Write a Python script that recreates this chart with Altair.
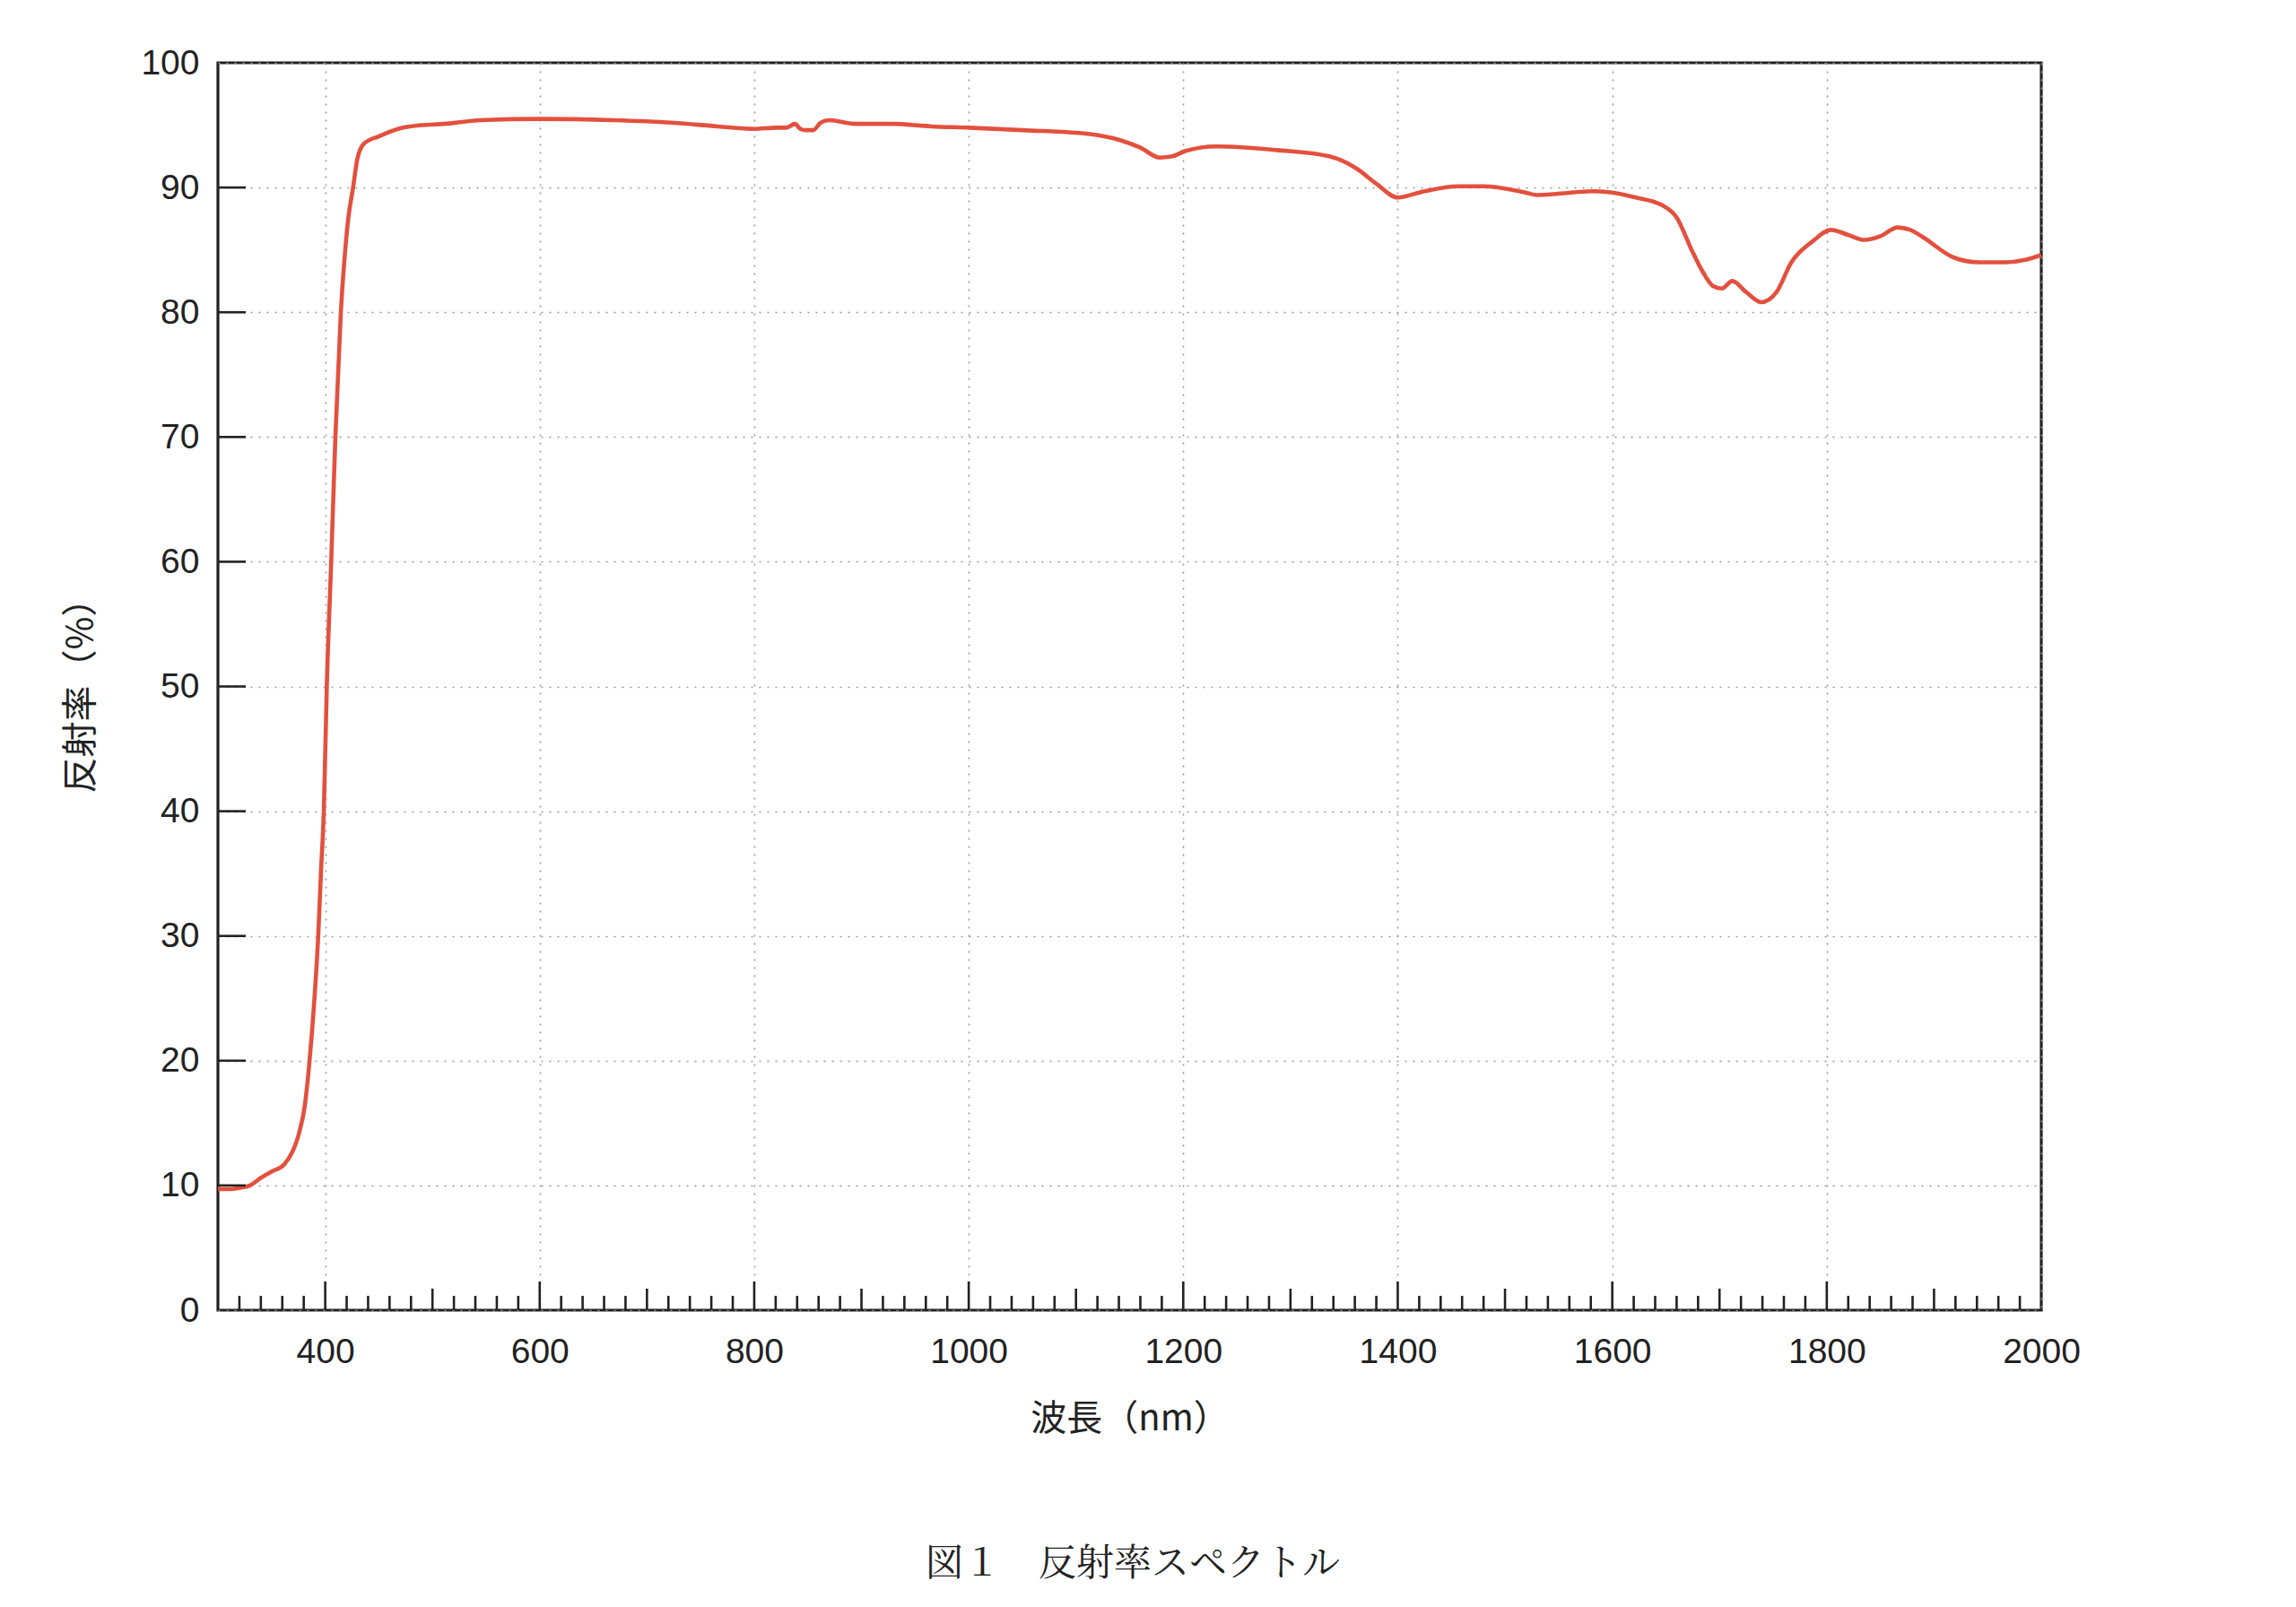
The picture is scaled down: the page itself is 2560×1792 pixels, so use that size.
import altair as alt
import pandas as pd

# ---- data ----
wavelength = [300, 310, 320, 330, 340, 350, 362, 370, 375, 381, 385, 390, 393.5, 396, 398.7,
              401.5, 405.6, 409.5, 414.6, 418.7, 421.5, 426, 430, 436, 450, 468, 490, 511,
              545, 600, 668, 723, 766, 800, 820, 830, 838, 843, 848, 855, 862, 870, 894,
              930, 965, 1000, 1050, 1111, 1141, 1160, 1178, 1190, 1201, 1231, 1287, 1336,
              1362, 1380, 1400, 1420, 1456, 1480, 1519, 1530, 1550, 1581, 1600, 1622, 1646,
              1660, 1674, 1684, 1694, 1702, 1712, 1725, 1739, 1753, 1767, 1787, 1804, 1820,
              1835, 1850, 1866, 1878, 1890, 1918, 1942, 1966, 1985, 2000]
reflectance = [9.7, 9.7, 9.8, 10.0, 10.6, 11.1, 11.7, 12.8, 14.0, 16.4, 19.6, 25.0, 30.0, 35.0, 40.0,
               50.0, 60.0, 70.0, 80.0, 85.0, 87.5, 90.0, 92.3, 93.5, 94.1, 94.7, 95.0, 95.1,
               95.4, 95.5, 95.4, 95.2, 94.9, 94.7, 94.8, 94.8, 95.1, 94.7, 94.6, 94.6, 95.2, 95.4, 95.1,
               95.1, 94.9, 94.8, 94.6, 94.3, 93.8, 93.2, 92.4, 92.5, 92.9, 93.3, 93.0, 92.5,
               91.5, 90.3, 89.2, 89.6, 90.1, 90.1, 89.6, 89.4, 89.5, 89.7, 89.6, 89.2, 88.6,
               87.6, 85.0, 83.3, 82.1, 81.9, 82.5, 81.6, 80.8, 81.6, 84.0, 85.7, 86.6, 86.2,
               85.8, 86.1, 86.8, 86.6, 86.0, 84.4, 84.0, 84.0, 84.2, 84.6]

x_labels = [400, 600, 800, 1000, 1200, 1400, 1600, 1800, 2000]
y_labels = [0, 10, 20, 30, 40, 50, 60, 70, 80, 90, 100]
x_major_ticks = [400, 600, 800, 1000, 1200, 1400, 1600, 1800]
x_mid_ticks = [500, 700, 900, 1100, 1300, 1500, 1700, 1900]
x_minor_ticks = [v for v in range(320, 2000, 20) if v % 100 != 0]
y_ticks = [10, 20, 30, 40, 50, 60, 70, 80, 90]

x_title = "波長（nm）"
y_title = "反射率（%）"
caption = "図１　反射率スペクトル"

W, H = 2033, 1391
INK = "#222222"
LINE = "#e3503e"

df = pd.DataFrame({"wl": wavelength, "r": reflectance})
x_scale = alt.Scale(domain=[300, 2000], nice=False, zero=False)
y_scale = alt.Scale(domain=[0, 100], nice=False, zero=False)

x_axis = alt.Axis(
    values=x_labels, format="d", title=x_title, grid=True, gridDash=[2, 7], gridColor="#9a9a9a",
    gridWidth=1.6, ticks=False, tickSize=0, domain=False, labelPadding=27, labelFlush=False,
    labelFont="Liberation Sans", labelFontSize=39, labelColor=INK,
    titleFont="Noto Sans CJK JP", titleFontSize=40, titleFontWeight="normal",
    titleColor=INK, titleX=W / 2, titleY=121, titleBaseline="middle", titleAlign="center")
y_axis = alt.Axis(
    values=y_labels, format="d", title=y_title, grid=True, gridDash=[2, 7], gridColor="#9a9a9a",
    gridWidth=1.6, ticks=False, tickSize=0, domain=False, labelPadding=21, labelFlush=False,
    labelFont="Liberation Sans", labelFontSize=39, labelColor=INK,
    titleFont="Noto Sans CJK JP", titleFontSize=40, titleFontWeight="normal",
    titleColor=INK, titleX=-153, titleY=H / 2, titleAngle=270,
    titleBaseline="middle", titleAlign="center")

line = alt.Chart(df).mark_line(color=LINE, strokeWidth=4.6, interpolate="monotone").encode(
    x=alt.X("wl:Q", scale=x_scale, axis=x_axis),
    y=alt.Y("r:Q", scale=y_scale, axis=y_axis),
)

def xtick_layer(vals, length):
    return alt.Chart(pd.DataFrame({"wl": vals})).mark_rule(color=INK, strokeWidth=2.6).encode(
        x=alt.X("wl:Q", scale=x_scale, axis=x_axis),
        y=alt.value(H), y2=alt.value(H - length))

ytick = alt.Chart(pd.DataFrame({"r": y_ticks})).mark_rule(color=INK, strokeWidth=2.6).encode(
    y=alt.Y("r:Q", scale=y_scale, axis=y_axis),
    x=alt.value(0), x2=alt.value(31))

cap = alt.Chart(pd.DataFrame({"t": [caption]})).mark_text(
    font="Noto Serif CJK JP, Noto Sans CJK JP", fontSize=42, color=INK, align="center",
    baseline="middle").encode(text="t:N", x=alt.value(1020), y=alt.value(1674))

chart = alt.layer(
    line, xtick_layer(x_minor_ticks, 16), xtick_layer(x_mid_ticks, 24),
    xtick_layer(x_major_ticks, 32), ytick, cap
).properties(
    width=W, height=H,
    autosize=alt.AutoSizeParams(type="none"),
    padding={"left": 235, "top": 62, "right": 260, "bottom": 320},
).configure(background="white").configure_view(stroke=INK, strokeWidth=3.2)

chart.save("out.html", embed_options={"renderer": "svg", "actions": False})
